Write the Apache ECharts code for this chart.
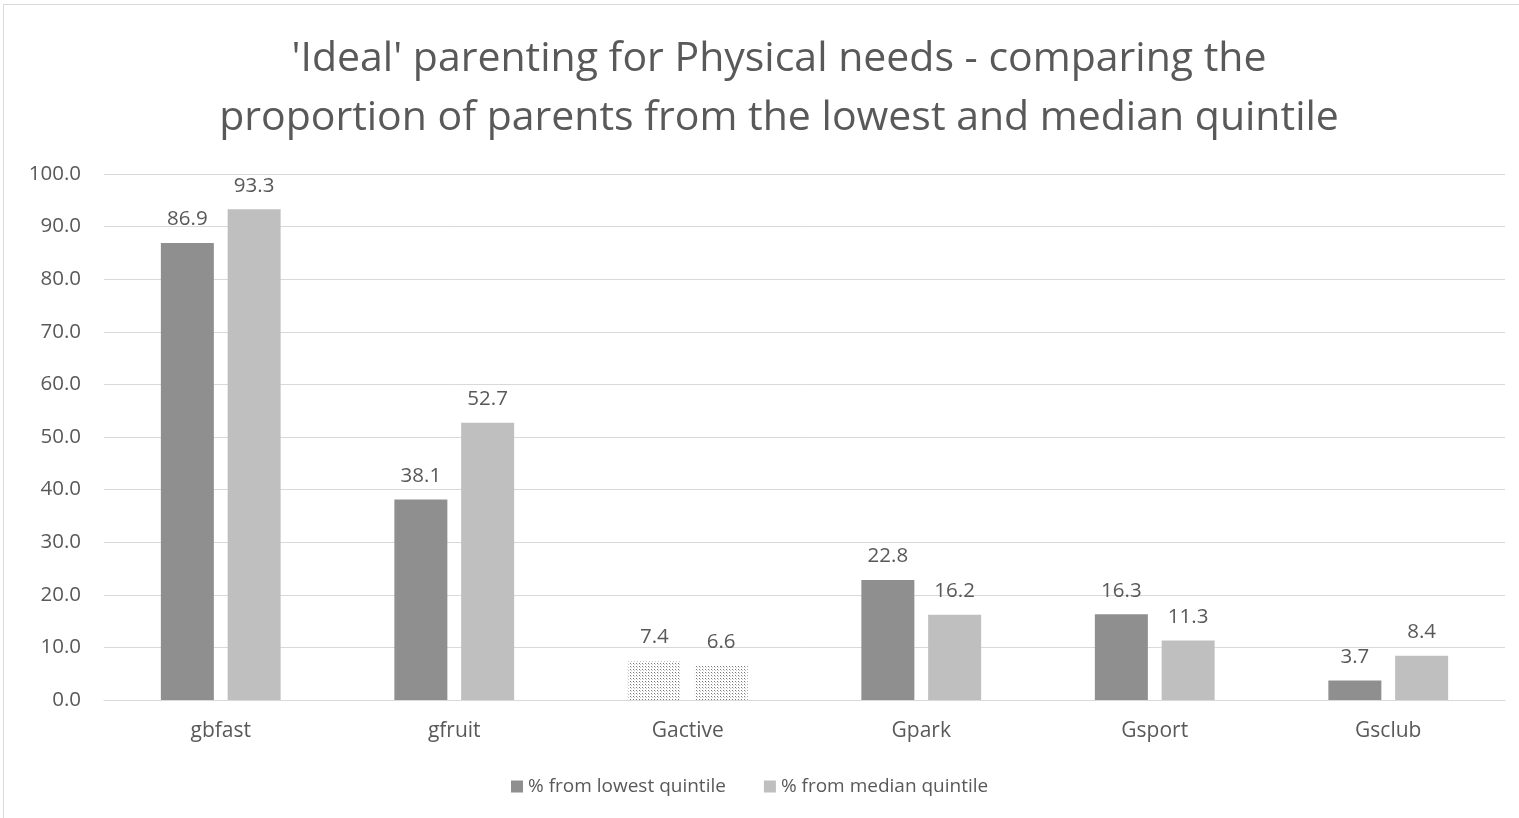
<!DOCTYPE html>
<html>
<head>
<meta charset="utf-8">
<script src="https://cdn.jsdelivr.net/npm/echarts@6/dist/echarts.min.js"></script>
<style>
  html, body { margin: 0; padding: 0; background: #fff; }
  #chart { width: 1519px; height: 818px; }
</style>
</head>
<body>
<div id="chart"></div>
<script>
// Survey items and the two quintile groups
const categories = ['gbfast', 'gfruit', 'Gactive', 'Gpark', 'Gsport', 'Gsclub'];
const lowestQuintile = [86.9, 38.1, 7.4, 22.8, 16.3, 3.7];
const medianQuintile = [93.3, 52.7, 6.6, 16.2, 11.3, 8.4];
const seriesNames = ['% from lowest quintile', '% from median quintile'];
const yTicks = { min: 0, max: 100, interval: 10 };
// Items drawn with a stippled fill instead of a solid one
const stippledItems = ['Gactive'];

const FONT = '"Open Sans", "Noto Sans", sans-serif';
const TEXT = '#595959';

// Small dot pattern for the stippled bars
function dotPattern() {
  const c = document.createElement('canvas');
  c.width = 3; c.height = 3;
  const g = c.getContext('2d');
  g.fillStyle = '#ffffff';
  g.fillRect(0, 0, 3, 3);
  g.fillStyle = '#7a7a7a';
  g.fillRect(0, 0, 1, 1);
  g.fillStyle = '#c8c8c8';
  g.fillRect(1, 1, 1, 1);
  return c;
}
const pattern = { image: dotPattern(), repeat: 'repeat' };

function buildData(values) {
  return values.map((v, i) => stippledItems.includes(categories[i])
    ? { value: v, itemStyle: { color: pattern } }
    : v);
}

const label = {
  show: true, position: 'top', distance: 13,
  color: TEXT, fontSize: 20.5, fontFamily: FONT,
  formatter: p => Number(p.value).toFixed(1)
};

const chart = echarts.init(document.getElementById('chart'), null, { renderer: 'canvas' });
chart.setOption({
  backgroundColor: '#fff',
  animation: false,
  title: {
    text: "'Ideal' parenting for Physical needs - comparing the\nproportion of parents from the lowest and median quintile",
    left: 774, top: 25, textAlign: 'center',
    textStyle: { color: TEXT, fontSize: 41, fontWeight: 'normal', fontFamily: FONT, lineHeight: 59, align: 'center' }
  },
  graphic: [{
    type: 'rect',
    shape: { x: 3.5, y: 4.5, width: 1600, height: 900 },
    style: { fill: 'none', stroke: '#d9d9d9', lineWidth: 1 },
    silent: true
  }],
  legend: {
    top: 772, left: 506,
    itemWidth: 12, itemHeight: 12, itemGap: 38,
    icon: 'rect',
    textStyle: { color: TEXT, fontSize: 19, fontFamily: FONT },
    data: seriesNames
  },
  grid: { left: 104, right: 14, top: 174, bottom: 118, containLabel: false },
  xAxis: {
    type: 'category', data: categories,
    axisLine: { lineStyle: { color: '#d9d9d9' } },
    axisTick: { show: false },
    axisLabel: { color: TEXT, fontSize: 21, fontFamily: FONT, margin: 21 }
  },
  yAxis: {
    type: 'value', min: yTicks.min, max: yTicks.max, interval: yTicks.interval,
    axisLine: { show: false }, axisTick: { show: false },
    axisLabel: { color: TEXT, fontSize: 20.5, fontFamily: FONT, margin: 23, formatter: v => v.toFixed(1) },
    splitLine: { lineStyle: { color: '#d9d9d9', width: 1 } }
  },
  series: [
    { name: seriesNames[0], type: 'bar', data: buildData(lowestQuintile),
      barWidth: 53, barGap: '26%', itemStyle: { color: '#8f8f8f' }, label },
    { name: seriesNames[1], type: 'bar', data: buildData(medianQuintile),
      barWidth: 53, barGap: '26%', itemStyle: { color: '#bfbfbf' }, label }
  ]
});
</script>
</body>
</html>
